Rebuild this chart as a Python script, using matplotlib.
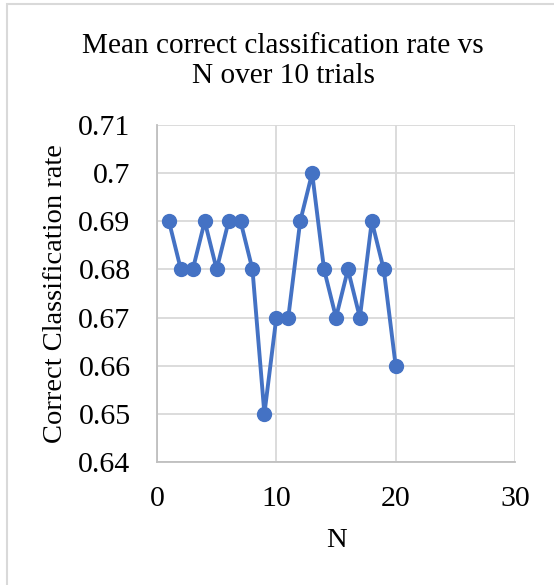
import matplotlib.pyplot as plt
from matplotlib.patches import Rectangle

plt.rcParams['font.family'] = ['Liberation Serif', 'DejaVu Serif']

n_values = list(range(1, 21))
rates = [0.69, 0.68, 0.68, 0.69, 0.68, 0.69, 0.69, 0.68, 0.65, 0.67,
         0.67, 0.69, 0.70, 0.68, 0.67, 0.68, 0.67, 0.69, 0.68, 0.66]
x_ticks = [0, 10, 20, 30]
y_ticks = [0.64, 0.65, 0.66, 0.67, 0.68, 0.69, 0.70, 0.71]
y_labels = ['0.64', '0.65', '0.66', '0.67', '0.68', '0.69', '0.7', '0.71']

fig = plt.figure(figsize=(5.54, 5.85), dpi=100)
ax = fig.add_axes([157/554, 1 - 462/585, (515 - 157)/554, (462 - 125)/585])

# chart border (only left/top edges visible in the crop)
fig.patches.append(Rectangle((6.5/554, -0.1), 1.2, 1 - 4.5/585 + 0.1,
                             transform=fig.transFigure, fill=False,
                             edgecolor='#d9d9d9', linewidth=1.5))

ax.plot(n_values, rates, color='#4472c4', linewidth=2.8,
        marker='o', markersize=10, zorder=3)

ax.set_xlim(0, 30)
ax.set_ylim(0.64, 0.71)
ax.set_xticks(x_ticks)
ax.set_yticks(y_ticks)
ax.set_yticklabels(y_labels)
ax.tick_params(length=0, labelsize=21.5, colors='black')
ax.tick_params(axis='y', pad=19)
ax.tick_params(axis='x', pad=17)
ax.grid(True, color='#d9d9d9', linewidth=1.3)
ax.set_axisbelow(True)
for s in ['top', 'right']:
    ax.spines[s].set_visible(False)
for s in ['left', 'bottom']:
    ax.spines[s].set_color('#bfbfbf')
    ax.spines[s].set_linewidth(1.3)

ax.set_xlabel('N', fontsize=20.5, labelpad=12)
ax.set_ylabel('Correct Classification rate', fontsize=20.5, va='center')
ax.yaxis.set_label_coords((55 - 157) / 358, 0.5)
fig.text(283/554, 1 - 53/585, 'Mean correct classification rate vs',
         ha='center', va='baseline', fontsize=21.1)
fig.text(283/554, 1 - 83/585, 'N over 10 trials',
         ha='center', va='baseline', fontsize=21.1)

fig.savefig('out.png', dpi=100)
